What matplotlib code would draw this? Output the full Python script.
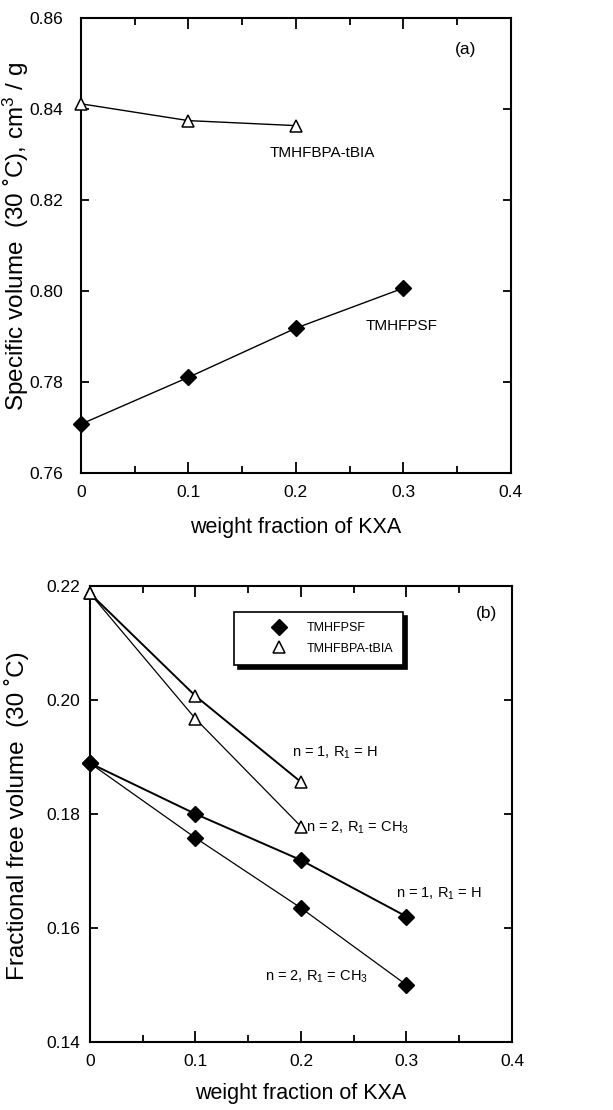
import matplotlib
matplotlib.use("Agg")
import matplotlib.pyplot as plt
import matplotlib.lines as mlines
from matplotlib.ticker import MultipleLocator

plt.rcParams['font.family'] = ['Liberation Sans', 'DejaVu Sans']
plt.rcParams['mathtext.fontset'] = 'custom'
plt.rcParams['mathtext.rm'] = 'Liberation Sans'
plt.rcParams['mathtext.it'] = 'Liberation Sans'

# ---- data ----
wf = [0.0, 0.1, 0.2, 0.3]
wf_b = [0.0, 0.1, 0.2]

# panel (a): specific volume
sv_tmhfpsf = [0.7707, 0.7810, 0.7918, 0.8006]
sv_tbia = [0.8411, 0.8374, 0.8363]

# panel (b): fractional free volume
ffv_psf_n1 = [0.1889, 0.1800, 0.1719, 0.1620]
ffv_psf_n2 = [0.1889, 0.1758, 0.1635, 0.1500]
ffv_tbia_n1 = [0.2187, 0.2007, 0.1856]
ffv_tbia_n2 = [0.2187, 0.1967, 0.1778]

xticks = [0, 0.1, 0.2, 0.3, 0.4]
xticklabels = ['0', '0.1', '0.2', '0.3', '0.4']

fig = plt.figure(figsize=(6.13, 11.10), dpi=100)

def style(ax, ymin, ymax, ystep, yfmt, ypad):
    ax.set_xlim(0, 0.4)
    ax.set_ylim(ymin, ymax)
    ax.set_xticks(xticks)
    ax.set_xticklabels(xticklabels)
    ax.xaxis.set_minor_locator(MultipleLocator(0.05))
    ax.yaxis.set_major_locator(MultipleLocator(ystep))
    ax.yaxis.set_major_formatter(plt.FormatStrFormatter(yfmt))
    ax.tick_params(which='both', direction='in', top=True, right=True, labelsize=12.5, width=1.3)
    ax.tick_params(axis='x', pad=9)
    ax.tick_params(axis='y', pad=ypad)
    ax.tick_params(which='major', length=8)
    ax.tick_params(which='minor', length=5)
    ax.tick_params(axis='y', which='major', length=6)
    for s in ax.spines.values():
        s.set_linewidth(1.5)

# ---- panel (a) ----
axa = fig.add_axes([0.132, 0.574, 0.7015, 0.410])
axa.plot(wf_b, sv_tbia, '-', color='black', lw=1.0, marker='^', ms=9,
         mfc='white', mec='black', mew=1.1, clip_on=False, zorder=3)
axa.plot(wf, sv_tmhfpsf, '-', color='black', lw=1.0, marker='D', ms=8,
         mfc='black', mec='black', clip_on=False, zorder=3)
style(axa, 0.76, 0.86, 0.02, '%.2f', 13)
axa.set_xlabel('weight fraction of KXA', fontsize=15.5, labelpad=12)
axa.set_ylabel('Specific volume  (30 ˚C), cm$^3$ / g', fontsize=17.5)
axa.yaxis.set_label_coords(-0.116, 0.52)
axa.text(0.358, 0.853, '(a)', fontsize=12.5, ha='center', va='center')
axa.text(0.225, 0.8302, 'TMHFBPA-tBIA', fontsize=11, ha='center', va='center')
axa.text(0.298, 0.7923, 'TMHFPSF', fontsize=11, ha='center', va='center')

# ---- panel (b) ----
axb = fig.add_axes([0.1468, 0.0613, 0.6884, 0.4108])
axb.plot(wf, ffv_psf_n1, '-', color='black', lw=1.4, marker='D', ms=8,
         mfc='black', mec='black', clip_on=False, zorder=3)
axb.plot(wf, ffv_psf_n2, '-', color='black', lw=0.9, marker='D', ms=8,
         mfc='black', mec='black', clip_on=False, zorder=3)
axb.plot(wf_b, ffv_tbia_n1, '-', color='black', lw=1.4, marker='^', ms=9,
         mfc='white', mec='black', mew=1.1, clip_on=False, zorder=3)
axb.plot(wf_b, ffv_tbia_n2, '-', color='black', lw=0.9, marker='^', ms=9,
         mfc='white', mec='black', mew=1.1, clip_on=False, zorder=3)
style(axb, 0.14, 0.22, 0.02, '%.2f', 7)
axb.set_xlabel('weight fraction of KXA', fontsize=15.5, labelpad=10)
axb.set_ylabel('Fractional free volume  (30 ˚C)', fontsize=17.5)
axb.yaxis.set_label_coords(-0.145, 0.496)
axb.text(0.376, 0.2152, '(b)', fontsize=12.5, ha='center', va='center')
axb.text(0.1915, 0.1907, 'n = 1, R$_1$ = H', fontsize=10.5, ha='left', va='center')
axb.text(0.2045, 0.1775, 'n = 2, R$_1$ = CH$_3$', fontsize=10.5, ha='left', va='center')
axb.text(0.290, 0.1660, 'n = 1, R$_1$ = H', fontsize=10.5, ha='left', va='center')
axb.text(0.166, 0.1514, 'n = 2, R$_1$ = CH$_3$', fontsize=10.5, ha='left', va='center')

# legend
h1 = mlines.Line2D([], [], ls='none', marker='D', ms=8, mfc='black', mec='black')
h2 = mlines.Line2D([], [], ls='none', marker='^', ms=9, mfc='white', mec='black', mew=1.1)
leg = axb.legend([h1, h2], ['TMHFPSF', 'TMHFBPA-tBIA'], loc='upper left',
                 bbox_to_anchor=(0.341, 0.943), borderaxespad=0, fontsize=9,
                 frameon=True, fancybox=False, edgecolor='black',
                 shadow={'color': 'black', 'alpha': 1, 'ox': 3, 'oy': -3},
                 handlelength=5.6, handletextpad=-0.6, borderpad=0.8,
                 labelspacing=0.7)
leg.get_frame().set_linewidth(1.2)

fig.savefig('out.png', dpi=100)
